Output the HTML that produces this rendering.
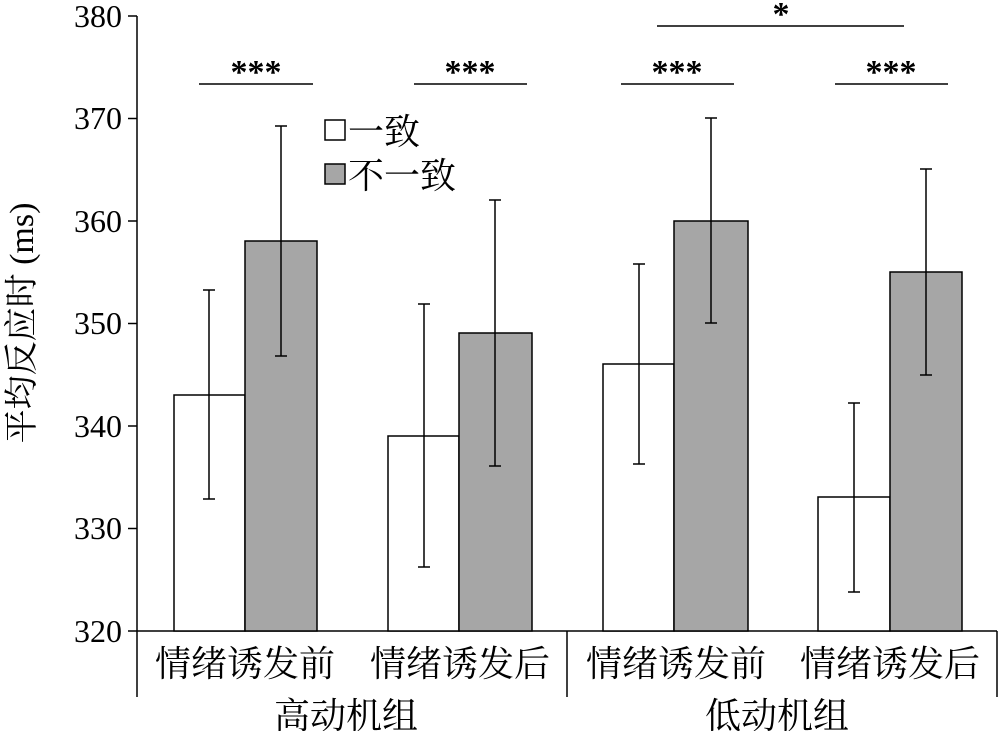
<!DOCTYPE html>
<html><head><meta charset="utf-8"><style>
body{margin:0;background:#fff}
text{font-family:"Liberation Serif","Noto Serif CJK SC",serif;fill:#000}
</style></head><body>
<svg width="1000" height="731" xmlns="http://www.w3.org/2000/svg">
<g stroke="#000" stroke-width="1.5" fill="none">
<line x1="137" y1="16" x2="137" y2="697"/>
<line x1="137" y1="631" x2="997" y2="631"/>
<line x1="567" y1="631" x2="567" y2="697"/>
<line x1="997" y1="631" x2="997" y2="697"/>
<line x1="128" y1="16" x2="137" y2="16"/>
<line x1="128" y1="118.5" x2="137" y2="118.5"/>
<line x1="128" y1="221" x2="137" y2="221"/>
<line x1="128" y1="323.5" x2="137" y2="323.5"/>
<line x1="128" y1="426" x2="137" y2="426"/>
<line x1="128" y1="528.5" x2="137" y2="528.5"/>
<line x1="128" y1="631" x2="137" y2="631"/>
</g>
<g font-size="32" text-anchor="end">
<text x="122" y="27">380</text><text x="122" y="129">370</text><text x="122" y="232">360</text>
<text x="122" y="334">350</text><text x="122" y="437">340</text><text x="122" y="539">330</text><text x="122" y="642">320</text>
</g>
<g stroke="#000" stroke-width="1.5">
<rect x="174" y="395" width="71" height="236" fill="#fff"/>
<rect x="245" y="241" width="72" height="390" fill="#a6a6a6"/>
<rect x="388" y="436" width="71" height="195" fill="#fff"/>
<rect x="459" y="333" width="73" height="298" fill="#a6a6a6"/>
<rect x="603" y="364" width="71" height="267" fill="#fff"/>
<rect x="674" y="221" width="74" height="410" fill="#a6a6a6"/>
<rect x="818" y="497" width="72" height="134" fill="#fff"/>
<rect x="890" y="272" width="72" height="359" fill="#a6a6a6"/>
</g>
<g stroke="#000" stroke-width="1.5">
<line x1="209" y1="290" x2="209" y2="499"/><line x1="203" y1="290" x2="215" y2="290"/><line x1="203" y1="499" x2="215" y2="499"/>
<line x1="281" y1="126" x2="281" y2="356"/><line x1="275" y1="126" x2="287" y2="126"/><line x1="275" y1="356" x2="287" y2="356"/>
<line x1="424" y1="304" x2="424" y2="567"/><line x1="418" y1="304" x2="430" y2="304"/><line x1="418" y1="567" x2="430" y2="567"/>
<line x1="495" y1="200" x2="495" y2="466"/><line x1="489" y1="200" x2="501" y2="200"/><line x1="489" y1="466" x2="501" y2="466"/>
<line x1="639" y1="264" x2="639" y2="464"/><line x1="633" y1="264" x2="645" y2="264"/><line x1="633" y1="464" x2="645" y2="464"/>
<line x1="711" y1="118" x2="711" y2="323"/><line x1="705" y1="118" x2="717" y2="118"/><line x1="705" y1="323" x2="717" y2="323"/>
<line x1="854" y1="403" x2="854" y2="592"/><line x1="848" y1="403" x2="860" y2="403"/><line x1="848" y1="592" x2="860" y2="592"/>
<line x1="926" y1="169" x2="926" y2="375"/><line x1="920" y1="169" x2="932" y2="169"/><line x1="920" y1="375" x2="932" y2="375"/>
<line x1="199" y1="84" x2="313" y2="84"/><line x1="414" y1="84" x2="527" y2="84"/>
<line x1="621" y1="84" x2="734" y2="84"/><line x1="835" y1="84" x2="948" y2="84"/>
<line x1="657" y1="26" x2="904" y2="26"/>
</g>
<g font-size="34" text-anchor="middle" font-weight="bold">
<text x="256" y="83">***</text><text x="470" y="83">***</text><text x="677" y="83">***</text><text x="891" y="83">***</text>
<text x="781" y="25">*</text>
</g>
<rect x="325" y="120" width="20" height="20" fill="#fff" stroke="#000" stroke-width="1.5"/>
<rect x="325" y="164" width="20" height="20" fill="#a6a6a6" stroke="#000" stroke-width="1.5"/>
<g font-size="36"><text x="348" y="144">一致</text><text x="348" y="188">不一致</text></g>
<g font-size="36" text-anchor="middle">
<text x="245" y="676">情绪诱发前</text><text x="460" y="676">情绪诱发后</text>
<text x="676" y="676">情绪诱发前</text><text x="890" y="676">情绪诱发后</text>
<text x="346" y="728">高动机组</text><text x="777" y="728">低动机组</text>
</g>
<text font-size="34" text-anchor="middle" transform="translate(33,323) rotate(-90)">平均反应时 (ms)</text>
</svg>
</body></html>
